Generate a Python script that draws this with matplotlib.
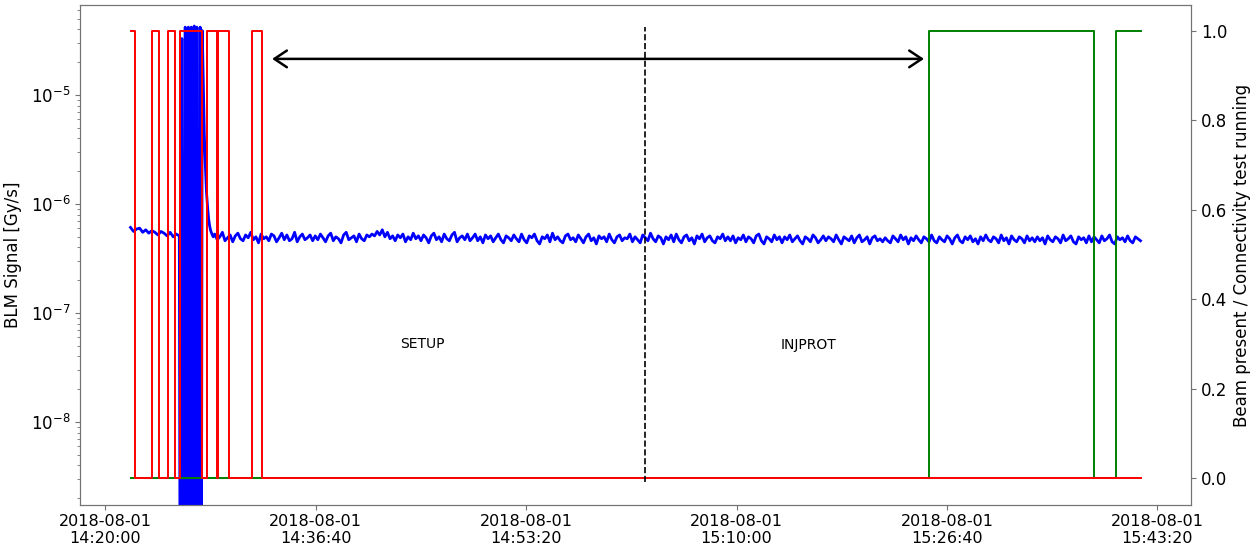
import numpy as np
import matplotlib
matplotlib.use("Agg")
import matplotlib.pyplot as plt
import matplotlib.dates as mdates
from datetime import datetime

T0 = datetime(2018, 8, 1, 14, 20, 0)

# BLM signal before the injection burst, in 1e-8 Gy/s (120 s .. 352 s after 14:20:00)
blm_pre = [61, 56, 59, 60, 55, 58, 54, 57, 55, 52, 56, 54, 51, 55, 50, 53, 51]
blm_pre_span = (120, 352)

# Injection burst and decay: seconds after 14:20:00 and signal in Gy/s
blm_burst_t = [357, 364, 372, 380, 388, 395, 402, 409, 416, 423, 429, 435, 443,
               451, 456, 461, 466, 471, 476, 481, 486, 491, 496, 501, 507, 513]
blm_burst_v = [1e-11, 3.3e-5, 1e-11, 4.2e-5, 1e-11, 4.2e-5, 1e-11, 4.2e-5, 1e-11,
               4.3e-5, 1e-11, 4.2e-5, 1e-11, 4.2e-5, 1e-11, 3.9e-5, 1.3e-5, 4.3e-6,
               2.2e-6, 1.3e-6, 9.5e-7, 7.4e-7, 6.3e-7, 5.7e-7, 5.3e-7, 5.0e-7]

# BLM signal after the burst, in 1e-8 Gy/s (520 s .. 4920 s after 14:20:00)
blm_post = [
    53, 47, 50, 55, 46, 49, 52, 45, 51, 54, 48, 46, 52, 49, 55, 47, 50, 44, 53, 48,
    50, 46, 53, 51, 45, 49, 54, 47, 52, 46, 48, 55, 45, 50, 53, 47, 49, 52, 46, 51,
    47, 53, 49, 45, 51, 54, 46, 50, 48, 44, 52, 55, 47, 49, 51, 45, 53, 48, 46, 52,
    50, 53, 51, 56, 52, 58, 50, 55, 48, 51, 46, 52, 49, 53, 45, 50, 47, 54, 48, 51,
    46, 52, 49, 44, 51, 54, 47, 50, 45, 53, 48, 46, 52, 55, 45, 49, 51, 47, 53, 46,
    49, 53, 46, 50, 44, 52, 48, 51, 45, 49, 53, 47, 44, 51, 49, 46, 52, 48, 45, 53,
    47, 44, 51, 49, 53, 46, 43, 50, 48, 52, 45, 54, 47, 50, 46, 44, 51, 53, 47, 49,
    45, 52, 48, 44, 50, 53, 46, 49, 43, 51, 48, 50, 45, 53, 47, 44, 50, 52, 46, 49,
    48, 53, 45, 50, 47, 44, 52, 49, 46, 54, 48, 45, 51, 49, 43, 50, 47, 52, 45, 53,
    47, 44, 50, 52, 46, 49, 43, 51, 48, 53, 45, 49, 51, 46, 44, 50, 48, 53, 46, 50,
    46, 51, 44, 49, 47, 52, 45, 50, 48, 44, 51, 53, 46, 43, 50, 48, 45, 52, 47, 50,
    44, 50, 47, 52, 45, 48, 51, 46, 43, 50, 48, 45, 52, 49, 44, 47, 51, 46, 50, 48,
    45, 52, 47, 43, 50, 48, 46, 51, 44, 49, 52, 45, 47, 50, 43, 49, 51, 46, 48, 45,
    49, 46, 44, 51, 48, 45, 52, 47, 50, 43, 49, 46, 51, 47, 44, 50, 48, 45, 52, 46,
    44, 50, 47, 45, 51, 48, 43, 49, 52, 46, 44, 50, 47, 51, 45, 48, 43, 50, 46, 52,
    47, 45, 50, 48, 44, 52, 46, 49, 43, 51, 47, 45, 50, 48, 44, 51, 46, 49, 45, 50,
    46, 49, 43, 51, 47, 45, 50, 48, 44, 52, 46, 48, 51, 45, 43, 50, 47, 49, 44, 51,
    45, 50, 47, 44, 51, 46, 48, 52, 45, 43, 50, 47, 49, 45, 51, 46, 44, 50, 48, 46,
]
blm_post_span = (520, 4920)

# Beam present flag (step changes, seconds after 14:20:00)
beam_t = [120, 142, 222, 256, 298, 332, 356, 460, 483, 530, 538, 586, 697, 744, 4920]
beam_v = [1, 0, 1, 0, 1, 0, 1, 0, 1, 0, 1, 0, 1, 0, 0]

# Connectivity test running flag
conn_t = [120, 3914, 4698, 4803, 4920]
conn_v = [0, 1, 0, 1, 1]

# Mode annotations
mode_change_t = 2565
arrow_t = (793, 3891)
arrow_y = 0.9375
labels = [("SETUP", 1506, 0.30), ("INJPROT", 3340, 0.297)]

tick_secs = [0, 1000, 2000, 3000, 4000, 5000]


def to_num(secs):
    return mdates.date2num(T0) + np.asarray(secs, dtype=float) / 86400.0


t_blm = np.concatenate([
    np.linspace(*blm_pre_span, len(blm_pre)),
    np.asarray(blm_burst_t, dtype=float),
    np.linspace(*blm_post_span, len(blm_post)),
])
v_blm = np.concatenate([
    np.asarray(blm_pre) * 1e-8,
    np.asarray(blm_burst_v),
    np.asarray(blm_post) * 1e-8,
])

fig = plt.figure(figsize=(12.5, 5.5), dpi=100)
ax = fig.add_axes([0.064, 0.0818, 0.8888, 0.9091])
ax2 = ax.twinx()

ax.plot(to_num(t_blm), v_blm, color="blue", lw=2.0)
ax.set_yscale("log")
ax.set_ylim(1.73e-9, 6.7e-5)
ax.set_ylabel("BLM Signal [Gy/s]", fontsize=12, labelpad=6)

ax2.step(to_num(conn_t), conn_v, where="post", color="green", lw=1.4)
ax2.step(to_num(beam_t), beam_v, where="post", color="red", lw=1.4)
ax2.set_ylim(-0.06, 1.058)
ax2.set_ylabel("Beam present / Connectivity test running", fontsize=12)

ax2.axvline(to_num(mode_change_t), ymin=0.046, ymax=0.956, color="black",
            ls="--", lw=1.2)
ax2.annotate("", xy=(to_num(arrow_t[0]), arrow_y),
             xytext=(to_num(arrow_t[1]), arrow_y),
             arrowprops=dict(arrowstyle="<->, head_length=0.45, head_width=0.3",
                             color="black", lw=1.8, mutation_scale=20,
                             shrinkA=0, shrinkB=0))
for txt, ts, ty in labels:
    ax2.text(to_num(ts), ty, txt, ha="center", va="center", fontsize=10)

ax.set_xticks(to_num(tick_secs))
ax.xaxis.set_major_formatter(mdates.DateFormatter("%Y-%m-%d\n%H:%M:%S"))
for a in (ax, ax2):
    a.tick_params(labelsize=12, colors="black")
    a.tick_params(color="0.45")
    for sp in a.spines.values():
        sp.set_color("0.45")
ax.tick_params(axis="x", labelsize=11.5, pad=3)
ax.tick_params(axis="y", which="minor", color="0.45")

fig.savefig("out.png", dpi=100)
